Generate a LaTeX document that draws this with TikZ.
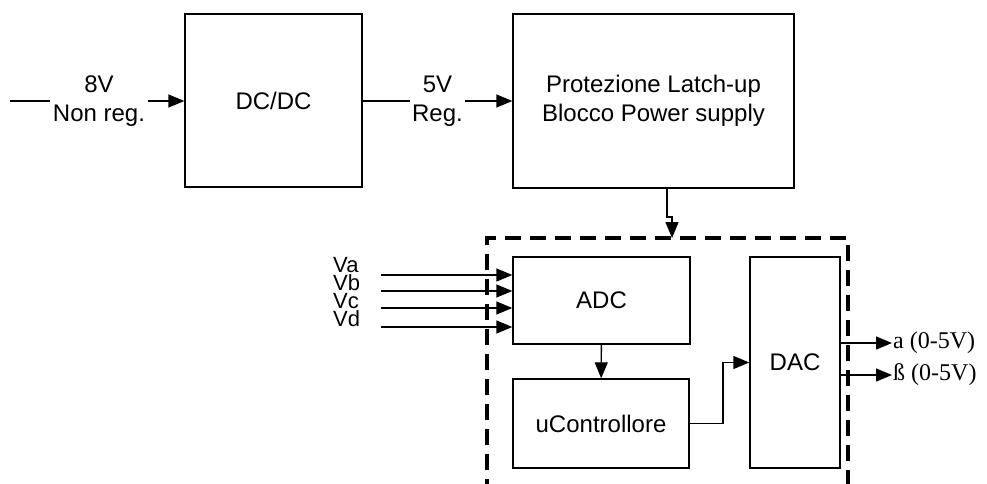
\documentclass[tikz,border=0pt]{standalone}
\usepackage{fontspec}
\setmainfont{Liberation Sans}
\newfontfamily\serifface{Liberation Serif}
\usetikzlibrary{arrows.meta}
\begin{document}
\begin{tikzpicture}[x=1pt,y=-1pt,
  txt/.style={font=\fontsize{24}{29}\selectfont, align=center},
  box/.style={txt, draw, line width=1.4pt, inner sep=0pt},
  lbl/.style={txt, inner ysep=0pt},
  outlbl/.style={font=\serifface\fontsize{24}{28}\selectfont, inner sep=1pt, anchor=west},
  inlbl/.style={font=\fontsize{22}{18}\selectfont, align=left, inner sep=0pt, anchor=west},
  wire/.style={line width=1.4pt},
  arr/.style={wire, -{Triangle[length=16pt,width=13pt]}},
  dashbox/.style={line width=3.2pt, dash pattern=on 16pt off 9pt}]
\useasboundingbox (0,0) rectangle (987,484);

% blocks
\node[box, minimum width=177pt, minimum height=173pt] (dcdc) at (273.5,100.5) {DC/DC};
\node[box, minimum width=281pt, minimum height=174pt] (prot) at (653.5,101) {Protezione Latch-up\\Blocco Power supply};
\node[box, minimum width=177pt, minimum height=87pt] (adc) at (601.5,300.5) {ADC};
\node[box, minimum width=176pt, minimum height=89pt] (uc) at (601,423.5) {uControllore};
\node[box, minimum width=90pt, minimum height=211pt] (dac) at (795,362.5) {DAC};

% supply chain
\coordinate (src) at (10,101);
\node[lbl, inner xsep=3pt] (in8) at (99,101) {8V\\Non reg.};
\draw[wire] (src) -- (in8.west);
\draw[arr] (in8.east) -- (dcdc.west |- in8.east);
\node[lbl, inner xsep=2pt] (in5) at (437.5,101) {5V\\Reg.};
\draw[wire] (dcdc.east |- in5.west) -- (in5.west);
\draw[arr] (in5.east) -- (prot.west |- in5.east);

% dashed enclosure
\coordinate (dbl) at (487,520);
\coordinate (dtl) at (487,238);
\coordinate (dtr) at (848,238);
\coordinate (dbr) at (848,520);
\draw[dashbox] (dbl) -- (dtl) -- (dtr) -- (dbr);

\coordinate (dtop) at (672,238);
\draw[arr] ([xshift=13.5pt]prot.south) |- ([yshift=21pt]dtop) -- (dtop);

% analog inputs
\coordinate (ia) at (381,275);
\coordinate (ib) at (381,291);
\coordinate (ic) at (381,308);
\coordinate (id) at (381,327);
\draw[arr] (ia) -- (adc.west |- ia);
\draw[arr] (ib) -- (adc.west |- ib);
\draw[arr] (ic) -- (adc.west |- ic);
\draw[arr] (id) -- (adc.west |- id);
\node[inlbl] (vin) at (333,292) {Va\\Vb\\Vc\\Vd};

% internal connections
\draw[arr] (adc) -- (uc);
\coordinate (kx) at (723,0);
\draw[arr] (uc.east) -- (uc.east -| kx) |- (dac.west);

% outputs
\node[outlbl] (oa) at (892,343) {a (0-5V)};
\node[outlbl] (ob) at (892,375) {ß (0-5V)};
\draw[arr] (dac.east |- oa.west) -- (oa.west);
\draw[arr] (dac.east |- ob.west) -- (ob.west);
\end{tikzpicture}
\end{document}
